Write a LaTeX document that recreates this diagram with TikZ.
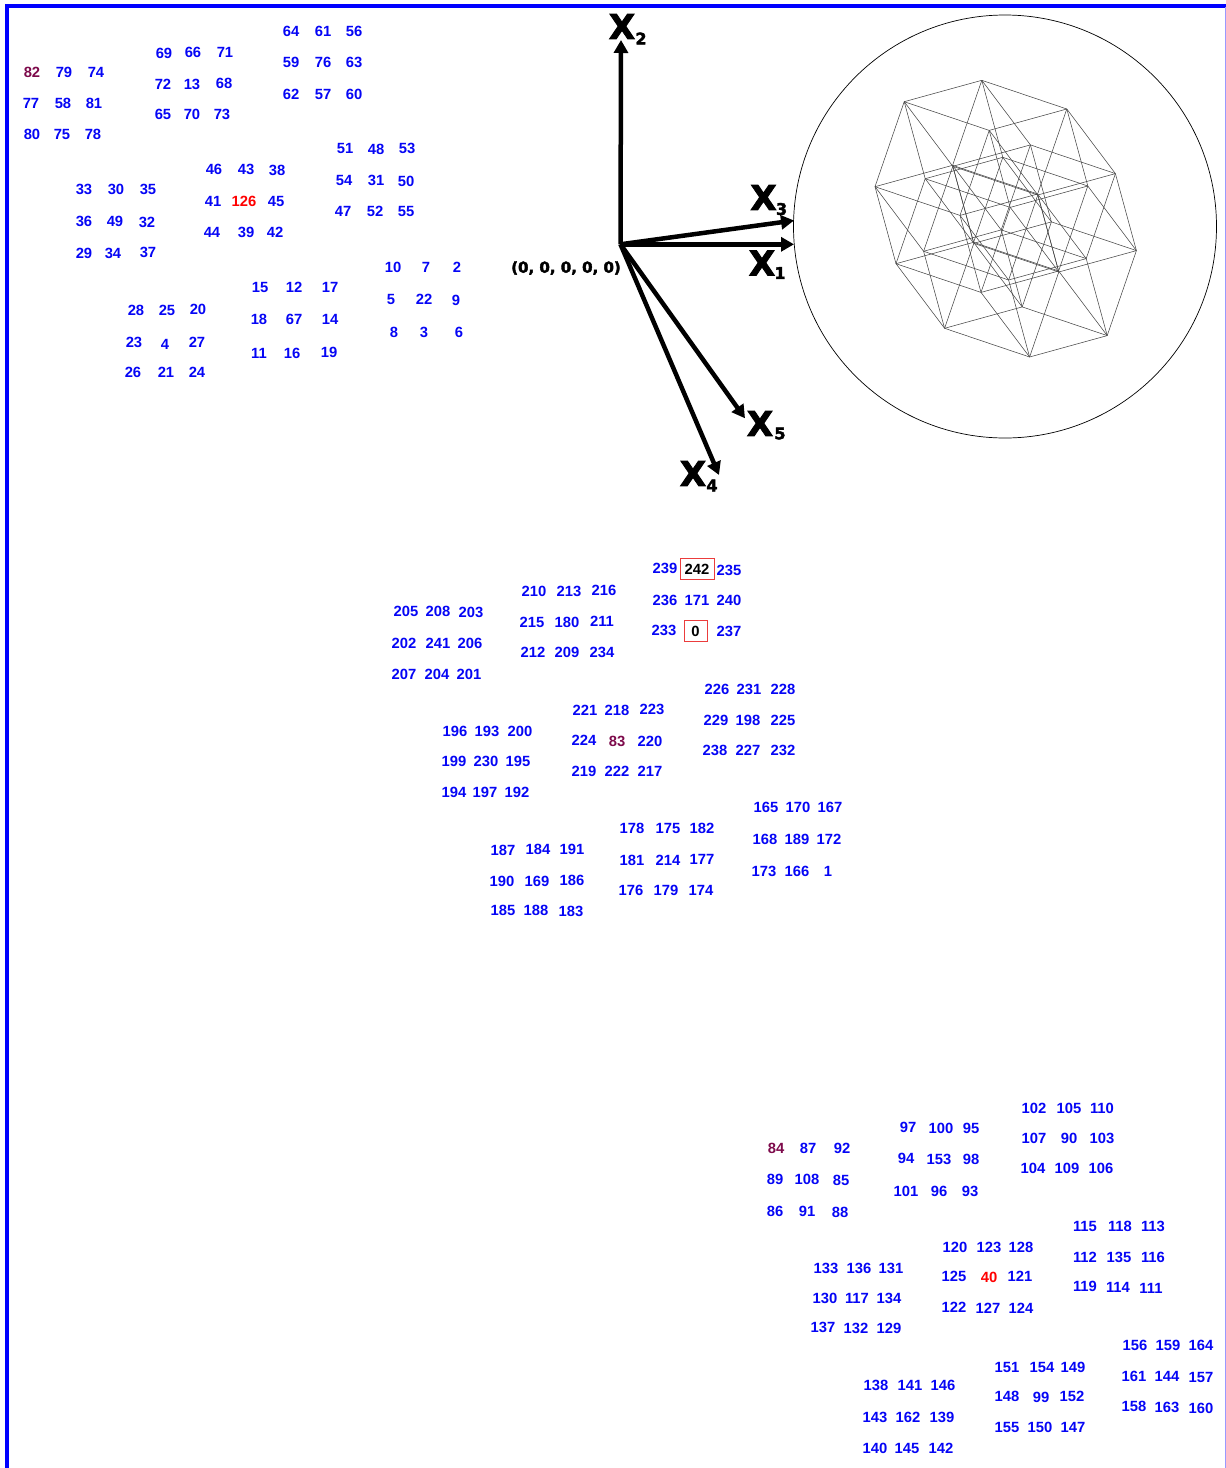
\documentclass[tikz,border=0pt]{standalone}
\usepackage{fontspec}
\setmainfont{Liberation Sans}
\newfontfamily\axisfont[FakeBold=2.5]{DejaVu Sans Bold}
\usetikzlibrary{arrows.meta}
\definecolor{numblue}{RGB}{5,5,245}
\definecolor{nummaroon}{RGB}{125,10,75}
\definecolor{framered}{RGB}{235,60,60}
\tikzset{
  num/.style={inner sep=0pt, yshift=-0.6pt, text=numblue, font=\fontsize{14.8}{16}\selectfont\bfseries},
  base/.style={num, text=nummaroon},
  hot/.style={num, text=red},
  boxed/.style={num, text=black, draw=framered, line width=1pt, minimum height=21pt},
  axis/.style={line width=4.5pt, -{Triangle[length=13pt, width=14pt]}},
  axislabel/.style={inner sep=0pt, font=\axisfont\fontsize{34}{36}\selectfont},
  axissub/.style={inner sep=0pt, font=\axisfont\fontsize{16}{17}\selectfont},
  wire/.style={line width=0.55pt, black!72}
}
\begin{document}
\begin{tikzpicture}[x=1pt, y=-1pt]
    \useasboundingbox (0,0) rectangle (1226,1468);
    % ===== FRAME =====
    \draw[blue, line width=4pt] (7,1468) -- (7,5.5) -- (1226,5.5);
    \fill[blue!40] (1225,7) rectangle (1226,1468);

    % ===== SPHERE WITH PROJECTED 5-CUBE =====
    \draw[line width=0.7pt] (1005,226.5) circle (211.5);
    \foreach \a in {0,1} \foreach \b in {0,1} \foreach \c in {0,1} \foreach \d in {0,1} \foreach \e in {0,1} {
        \pgfmathsetmacro\px{875+\a*77.6+\b*85+\c*48.6+\d*21+\e*29.2}
        \pgfmathsetmacro\py{186.7-\a*21.4+\b*28.7+\c*64.6+\d*77-\e*85}
        \ifnum\a=0 \draw[wire] (\px,\py) -- ++(77.6,-21.4); \fi
        \ifnum\b=0 \draw[wire] (\px,\py) -- ++(85,28.7); \fi
        \ifnum\c=0 \draw[wire] (\px,\py) -- ++(48.6,64.6); \fi
        \ifnum\d=0 \draw[wire] (\px,\py) -- ++(21,77); \fi
        \ifnum\e=0 \draw[wire] (\px,\py) -- ++(29.2,-85); \fi
    }

    % ===== AXES =====
    \coordinate (orig) at (620.5,244.3);
    \coordinate (end1) at (794,244.3);
    \coordinate (end2) at (621,40);
    \coordinate (end3) at (794,220.5);
    \coordinate (end4) at (719,475);
    \coordinate (end5) at (745,418.3);
    \foreach \i in {1,...,5}
        \draw[axis] (orig) -- (end\i);
    \node[inner sep=0pt, font=\axisfont\fontsize{15}{17}\selectfont] (origlabel) at (566,268) {(0, 0, 0, 0, 0)};
    \node[axislabel] (x1) at (762,263) {X};
    \node[axissub] (s1) at (780,273) {1};
    \node[axislabel] (x2) at (622,26.5) {X};
    \node[axissub] (s2) at (641,38.5) {2};
    \node[axislabel] (x3) at (763.5,197.5) {X};
    \node[axissub] (s3) at (781.5,209) {3};
    \node[axislabel] (x4) at (693,473.5) {X};
    \node[axissub] (s4) at (712,485.5) {4};
    \node[axislabel] (x5) at (760,423.5) {X};
    \node[axissub] (s5) at (780,433.5) {5};

    % ===== UPPER LEFT CLUSTERS =====
    \foreach \x/\y/\t in {
        64/72/79, 96/72/74, 31/103/77, 63/103/58, 94/103/81, 32/134/80, 62/134/75, 93/134/78,
        164/53/69, 193/52/66, 225/52/71, 163/84/72, 192/84/13, 224/83/68, 163/114/65, 192/114/70, 222/114/73,
        291/31/64, 323/31/61, 354/31/56, 291/62/59, 323/62/76, 354/62/63, 291/94/62, 323/94/57, 354/94/60,
        345/148/51, 376/149/48, 407/148/53, 344/180/54, 376/180/31, 406/181/50, 343/211/47, 375/211/52, 406/211/55,
        214/169/46, 246/169/43, 277/170/38, 213/201/41, 276/201/45, 212/232/44, 246/232/39, 275/232/42,
        84/189/33, 116/189/30, 148/189/35, 84/221/36, 115/221/49, 147/222/32, 84/253/29, 113/253/34, 148/252/37,
        393/267/10, 426/267/7, 457/267/2, 391/299/5, 424/299/22, 456/300/9, 394/332/8, 424/332/3, 459/332/6,
        260/287/15, 294/287/12, 330/287/17, 259/319/18, 294/319/67, 330/319/14, 259/353/11, 292/353/16, 329/352/19,
        136/310/28, 167/310/25, 198/309/20, 134/342/23, 165/344/4, 197/342/27, 133/372/26, 166/372/21, 197/372/24}
        \node[num] (n\t) at (\x,\y) {\t};
    \node[base] (n82) at (32,72) {82};
    \node[hot] (n126) at (244,201) {126};

    % ===== MIDDLE CLUSTERS =====
    \foreach \x/\y/\t in {
        665/568/239, 729/570/235, 665/600/236, 697/600/171, 729/600/240, 664/630/233, 729/631/237,
        534/591/210, 569/591/213, 604/590/216, 532/622/215, 567/622/180, 602/621/211, 533/652/212, 567/652/209, 602/652/234,
        406/611/205, 438/611/208, 471/612/203, 404/643/202, 438/643/241, 470/643/206, 404/674/207, 437/674/204, 469/674/201,
        717/689/226, 749/689/231, 783/689/228, 716/720/229, 748/720/198, 783/720/225, 715/750/238, 748/750/227, 783/750/232,
        585/710/221, 617/710/218, 652/709/223, 584/740/224, 650/741/220, 584/771/219, 617/771/222, 650/771/217,
        455/731/196, 487/731/193, 520/731/200, 454/761/199, 486/761/230, 518/761/195, 454/792/194, 485/792/197, 517/792/192,
        766/807/165, 798/807/170, 830/807/167, 765/839/168, 797/839/189, 829/839/172, 764/871/173, 797/871/166, 828/871/1,
        632/828/178, 668/828/175, 702/828/182, 632/860/181, 668/860/214, 702/859/177, 631/890/176, 666/890/179, 701/890/174,
        503/850/187, 538/849/184, 572/849/191, 502/881/190, 537/881/169, 572/880/186, 503/910/185, 536/910/188, 571/911/183}
        \node[num] (n\t) at (\x,\y) {\t};
    \node[base] (n83) at (617,741) {83};
    \node[boxed, minimum width=34pt] (n242) at (697,568.5) {242};
    \node[boxed, minimum width=23pt] (n0) at (695.5,630.3) {0};

    % ===== LOWER RIGHT CLUSTERS =====
    \foreach \x/\y/\t in {
        808/1148/87, 842/1148/92, 775/1179/89, 807/1179/108, 841/1180/85, 775/1211/86, 807/1211/91, 840/1212/88,
        908/1127/97, 941/1128/100, 971/1128/95, 906/1158/94, 939/1159/153, 971/1159/98, 906/1191/101, 939/1191/96, 970/1191/93,
        1034/1108/102, 1069/1108/105, 1102/1108/110, 1034/1138/107, 1069/1138/90, 1102/1138/103, 1033/1168/104, 1067/1168/109, 1101/1168/106,
        1085/1226/115, 1120/1226/118, 1153/1226/113, 1085/1257/112, 1119/1257/135, 1153/1257/116, 1085/1286/119, 1118/1287/114, 1151/1288/111,
        955/1247/120, 989/1247/123, 1021/1247/128, 954/1276/125, 1020/1276/121, 954/1307/122, 988/1308/127, 1021/1308/124,
        826/1268/133, 859/1268/136, 891/1268/131, 825/1298/130, 857/1298/117, 889/1298/134, 823/1327/137, 856/1328/132, 889/1328/129,
        1135/1345/156, 1168/1345/159, 1201/1345/164, 1134/1376/161, 1167/1376/144, 1201/1377/157, 1134/1406/158, 1167/1407/163, 1201/1408/160,
        1007/1367/151, 1042/1367/154, 1073/1367/149, 1007/1396/148, 1041/1397/99, 1072/1396/152, 1007/1427/155, 1040/1427/150, 1073/1427/147,
        876/1385/138, 910/1385/141, 943/1385/146, 875/1417/143, 908/1417/162, 942/1417/139, 875/1448/140, 907/1448/145, 941/1448/142}
        \node[num] (n\t) at (\x,\y) {\t};
    \node[base] (n84) at (776,1148) {84};
    \node[hot] (n40) at (989,1277) {40};
\end{tikzpicture}
\end{document}
